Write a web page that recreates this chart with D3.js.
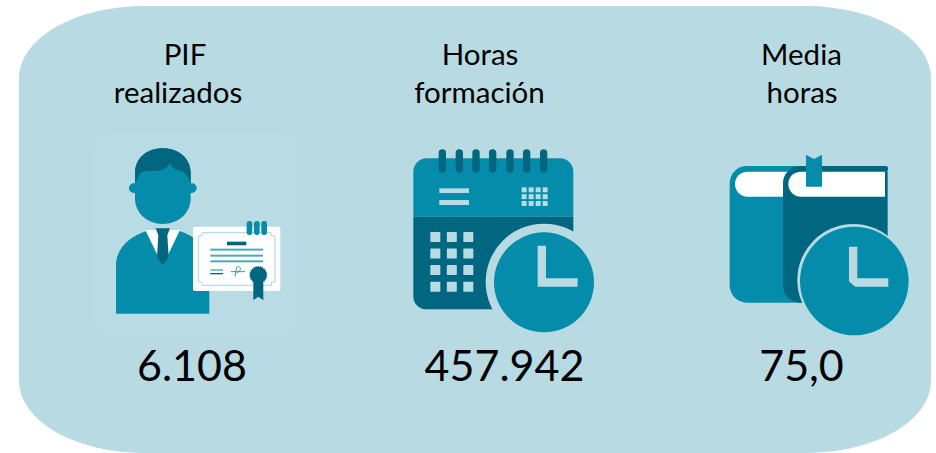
<!DOCTYPE html>
<html>
<head>
<meta charset="utf-8">
<style>
html, body { margin: 0; padding: 0; background: #fff; }
svg { display: block; }
text { font-family: Lato, "Open Sans", sans-serif; fill: #000; text-anchor: middle; }
</style>
<script src="https://d3js.org/d3.v7.min.js"></script>
</head>
<body>
<svg id="chart"></svg>
<script>
// ----------------------------------------
//  Data
// ----------------------------------------
var kpiIds = ['pif', 'horas', 'media'];
var kpiLabels = [['PIF', 'realizados'], ['Horas', 'formación'], ['Media', 'horas']];
var kpiValues = ['6.108', '457.942', '75,0'];

// ----------------------------------------
//  Sizing and colours
// ----------------------------------------
var width = 936, height = 453;
var panelBg = '#b8dae3', mid = '#058caa', dark = '#01667f', white = '#ffffff';

var svg = d3.select('#chart').attr('width', width).attr('height', height);

// first label line is not quite centred over the second one in the original
var firstLineX = d3.scaleOrdinal().domain(kpiIds).range([185, 480, 801.5]);
var secondLineX = d3.scaleOrdinal().domain(kpiIds).range([178, 479.5, 802]);
var valueX = d3.scaleOrdinal().domain(kpiIds).range([192, 504.5, 801.5]);

// panel with elliptical corners
var L = 19, R = 931, T = 6, B = 453, rx = 125, ry = 72;
svg.append('path')
  .attr('fill', panelBg)
  .attr('d', 'M' + (L + rx) + ',' + T + 'H' + (R - rx) +
    'A' + rx + ',' + ry + ' 0 0 1 ' + R + ',' + (T + ry) + 'V' + (B - ry) +
    'A' + rx + ',' + ry + ' 0 0 1 ' + (R - rx) + ',' + B + 'H' + (L + rx) +
    'A' + rx + ',' + ry + ' 0 0 1 ' + L + ',' + (B - ry) + 'V' + (T + ry) +
    'A' + rx + ',' + ry + ' 0 0 1 ' + (L + rx) + ',' + T + 'Z');

// ----------------------------------------
//  Texts
// ----------------------------------------
var labels = svg.selectAll('.label').data(kpiIds).enter().append('text')
  .attr('class', 'label')
  .attr('font-size', 29.5)
  .attr('x', function(d) { return firstLineX(d); })
  .attr('y', 65);
labels.append('tspan').text(function(d, i) { return kpiLabels[i][0]; });
labels.append('tspan')
  .attr('x', function(d) { return secondLineX(d); })
  .attr('dy', 38)
  .text(function(d, i) { return kpiLabels[i][1]; });

svg.selectAll('.value').data(kpiIds).enter().append('text')
  .attr('class', 'value')
  .attr('font-size', 43)
  .attr('x', function(d) { return valueX(d); })
  .attr('y', 381)
  .text(function(d, i) { return kpiValues[i]; });

// ----------------------------------------
//  Icons, drawn in 3x units
// ----------------------------------------
function rect(g, x, y, w, h, fill, r) {
  return g.append('rect').attr('x', x).attr('y', y).attr('width', w).attr('height', h)
    .attr('rx', r || 0).attr('fill', fill);
}
function path(g, d, fill) {
  return g.append('path').attr('d', d).attr('fill', fill);
}
function circle(g, cx, cy, r, fill) {
  return g.append('circle').attr('cx', cx).attr('cy', cy).attr('r', r).attr('fill', fill);
}

// person with diploma
var p = svg.append('g').attr('transform', 'translate(90,130) scale(0.3333)');
rect(p, 10, 8, 612, 615, '#b9dbe4', 60);
path(p, 'M78,551V405C78,355 120,318 170,303H268C318,318 358,355 358,405V551Z', mid);
path(p, 'M166,300H270L218,408Z', white);
path(p, 'M197,295H240L232,316L236,380L218,408L201,380L205,316Z', dark);
rect(p, 117, 160, 203, 29, mid, 14.5);
path(p, 'M135,130C135,85 170,55 218,55C266,55 302,85 302,130V205C302,250 265,282 218,282C172,282 135,250 135,205Z', mid);
path(p, 'M135,160V130C135,85 170,55 218,55C266,55 302,85 302,130V160C295,145 290,125 270,122C255,120 245,112 240,98C232,115 215,123 190,123H165C148,125 142,145 135,160Z', dark);
// diploma
rect(p, 309, 290, 262, 193, white, 6);
path(p, 'M337,308H543L545,318H555V456H545L543,466H337L335,456H325V318H335Z', 'none')
  .attr('stroke', '#a9d4e0').attr('stroke-width', 3);
rect(p, 470, 273, 17, 42, mid, 8);
rect(p, 492, 273, 17, 42, mid, 8);
rect(p, 514, 273, 17, 42, mid, 8);
rect(p, 411, 335, 58, 11, dark);
rect(p, 361, 356, 158, 6, '#46a9c0');
rect(p, 361, 374, 158, 6, '#46a9c0');
rect(p, 361, 391, 158, 6, '#46a9c0');
rect(p, 361, 418, 38, 4, '#46a9c0');
rect(p, 361, 429, 38, 4, dark);
path(p, 'M422,425H465M435,440L440,412C450,405 460,420 440,428', 'none')
  .attr('stroke', '#2f9db7').attr('stroke-width', 3);
path(p, 'M490,450H520V511L505,500L490,511Z', dark);
// seal with a toothed edge
var seal = d3.lineRadial().curve(d3.curveLinearClosed)(d3.range(48).map(function(i) {
  return [i * Math.PI / 24, i % 2 ? 24 : 28];
}));
path(p, seal, dark).attr('transform', 'translate(505,435)');

// calendar with clock
var c = svg.append('g').attr('transform', 'translate(395,130) scale(0.3333)');
path(c, 'M55,260V125C55,103 73,85 95,85H495C517,85 535,103 535,125V260Z', mid);
path(c, 'M55,260H535V500C535,522 517,538 495,538H95C73,538 55,522 55,500Z', dark);
[142, 193, 243, 293, 345, 395, 446].forEach(function(x) {
  rect(c, x - 11, 58, 22, 70, dark, 11);
});
rect(c, 133, 175, 89, 14, panelBg);
rect(c, 133, 210, 89, 15, panelBg);
d3.range(4).forEach(function(i) {
  d3.range(3).forEach(function(j) {
    rect(c, 380 + i * 21, 172 + j * 20.5, 15, 15, panelBg);
    rect(c, 106 + j * 49.5, 306 + i * 49.7, 30, 30, panelBg, 2);
  });
});
circle(c, 447, 456, 175, panelBg);
circle(c, 447, 457, 150, mid);
path(c, 'M428,347H453V445H548V470H428Z', panelBg);

// books with clock
var b = svg.append('g').attr('transform', 'translate(715,140) scale(0.3333)');
path(b, 'M44,130C44,100 68,78 96,78H300V488H96C68,488 44,466 44,436Z', mid);
path(b, 'M98,95H240V170H98C76,170 60,153 60,132C60,111 76,95 98,95Z', white);
path(b, 'M204,130C204,100 228,78 256,78H512C522,78 522,94 512,94H518V488H256C228,488 204,466 204,436Z', dark);
path(b, 'M258,95H510V170H258C236,170 220,153 220,132C220,111 236,95 258,95Z', white);
path(b, 'M273,140V44L297,57L321,44V140Z', mid);
circle(b, 415, 420, 168, panelBg);
circle(b, 418, 423, 163, mid);
path(b, 'M402,320H427V415H520V440H420L402,424Z', panelBg);
</script>
</body>
</html>
